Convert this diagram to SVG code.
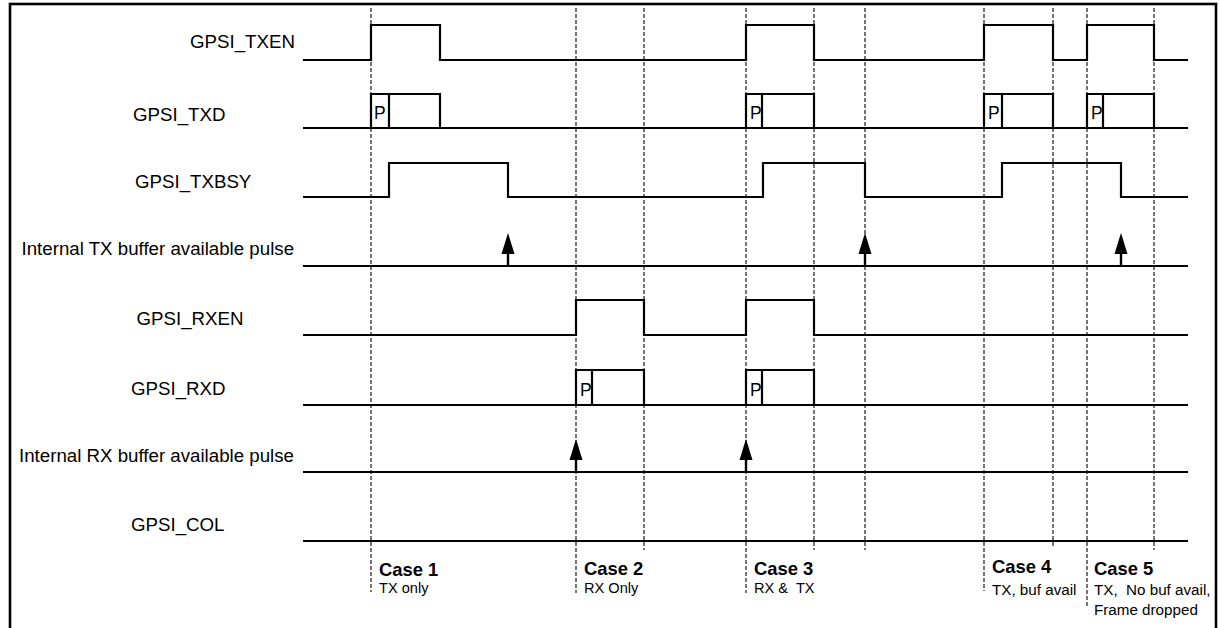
<svg xmlns="http://www.w3.org/2000/svg" width="1219" height="628" viewBox="0 0 1219 628">
<style>
.lbl{font-family:"Liberation Sans",Arial,sans-serif;font-size:18.7px;fill:#000}
.p{font-family:"Liberation Sans",Arial,sans-serif;font-size:17.5px;fill:#000}
.case{font-family:"Liberation Sans",Arial,sans-serif;font-size:18.4px;font-weight:bold;fill:#000}
.sub{font-family:"Liberation Sans",Arial,sans-serif;font-size:14.6px;fill:#000}
.sub2{font-family:"Liberation Sans",Arial,sans-serif;font-size:15.2px;fill:#000}
.sig{fill:none;stroke:#000;stroke-width:2.2;stroke-linejoin:miter}
.dash{fill:none;stroke:#1a1a1a;stroke-width:1.2;stroke-dasharray:4 2}
</style>
<defs>
<g id="arrowUp">
<line x1="0" y1="0" x2="0" y2="-14" stroke="#000" stroke-width="2.4"/>
<polygon points="-6.5,-12 6.5,-12 0,-33" fill="#000"/>
</g>
</defs>
<rect x="10" y="4" width="1206" height="640" fill="#fff" stroke="#000" stroke-width="2.6"/>

<g id="guides">
<line class="dash" x1="371" y1="8" x2="371" y2="592"/>
<line class="dash" x1="576" y1="8" x2="576" y2="593"/>
<line class="dash" x1="644" y1="8" x2="644" y2="550"/>
<line class="dash" x1="746" y1="8" x2="746" y2="593"/>
<line class="dash" x1="814" y1="8" x2="814" y2="550"/>
<line class="dash" x1="865" y1="8" x2="865" y2="550"/>
<line class="dash" x1="984" y1="8" x2="984" y2="591"/>
<line class="dash" x1="1053" y1="8" x2="1053" y2="548"/>
<line class="dash" x1="1087" y1="8" x2="1087" y2="607"/>
<line class="dash" x1="1154" y1="8" x2="1154" y2="550"/>
</g>

<g id="GPSI_TXEN">
<text class="lbl" x="190" y="48">GPSI_TXEN</text>
<path class="sig" d="M303,60 H371 V25 H440 V60 H746 V25 H814 V60 H984 V25 H1053 V60 H1087 V25 H1154 V60 H1188"/>
</g>

<g id="GPSI_TXD">
<text class="lbl" x="133" y="120.5">GPSI_TXD</text>
<path class="sig" d="M303,128 H1188"/>
<path class="sig" d="M371,128 V94 H440 V128 M389,94 V128"/>
<path class="sig" d="M746,128 V94 H814 V128 M762,94 V128"/>
<path class="sig" d="M984,128 V94 H1053 V128 M1002,94 V128"/>
<path class="sig" d="M1087,128 V94 H1154 V128 M1103,94 V128"/>
<text class="p" x="374" y="118.5">P</text>
<text class="p" x="750" y="118.5">P</text>
<text class="p" x="988" y="118.5">P</text>
<text class="p" x="1091" y="118.5">P</text>
</g>

<g id="GPSI_TXBSY">
<text class="lbl" x="135" y="188">GPSI_TXBSY</text>
<path class="sig" d="M303,197 H389 V163 H508 V197 H763 V163 H865 V197 H1002 V163 H1121 V197 H1188"/>
</g>

<g id="TX_buffer_pulse">
<text class="lbl" x="21.5" y="255">Internal TX buffer available pulse</text>
<path class="sig" d="M303,266 H1188"/>
</g>

<g id="GPSI_RXEN">
<text class="lbl" x="136.5" y="325">GPSI_RXEN</text>
<path class="sig" d="M303,335 H576 V300 H644 V335 H746 V300 H814 V335 H1188"/>
</g>

<g id="GPSI_RXD">
<text class="lbl" x="131" y="395">GPSI_RXD</text>
<path class="sig" d="M303,405 H1188"/>
<path class="sig" d="M576,405 V370 H644 V405 M592,370 V405"/>
<path class="sig" d="M746,405 V370 H814 V405 M762,370 V405"/>
<text class="p" x="580" y="395.5">P</text>
<text class="p" x="750" y="395.5">P</text>
</g>

<g id="RX_buffer_pulse">
<text class="lbl" x="19" y="461.5">Internal RX buffer available pulse</text>
<path class="sig" d="M303,472 H1188"/>
</g>

<g id="GPSI_COL">
<text class="lbl" x="131" y="531">GPSI_COL</text>
<path class="sig" d="M303,541 H1188"/>
</g>

<g id="connectors">
<use href="#arrowUp" x="508" y="266"/>
<use href="#arrowUp" x="865" y="266"/>
<use href="#arrowUp" x="1121" y="266"/>
<use href="#arrowUp" x="576" y="472"/>
<use href="#arrowUp" x="746" y="472"/>
</g>

<g id="case1">
<text class="case" x="379" y="576">Case 1</text>
<text class="sub" x="379" y="593">TX only</text>
</g>
<g id="case2">
<text class="case" x="584" y="575">Case 2</text>
<text class="sub" x="584" y="593">RX Only</text>
</g>
<g id="case3">
<text class="case" x="754" y="575">Case 3</text>
<text class="sub" x="754" y="593" xml:space="preserve">RX &amp;  TX</text>
</g>
<g id="case4">
<text class="case" x="992" y="573">Case 4</text>
<text class="sub2" x="992" y="595">TX, buf avail</text>
</g>
<g id="case5">
<text class="case" x="1094" y="575">Case 5</text>
<text class="sub2" x="1094" y="595" xml:space="preserve">TX,  No buf avail,</text>
<text class="sub2" x="1094" y="615">Frame dropped</text>
</g>
</svg>
